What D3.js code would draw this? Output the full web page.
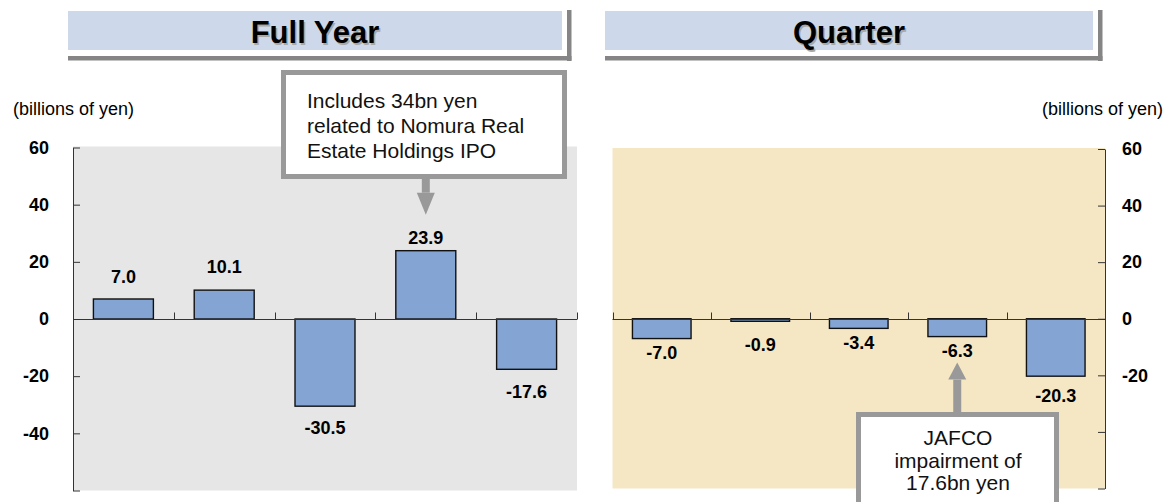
<!DOCTYPE html>
<html>
<head>
<meta charset="utf-8">
<script src="https://cdn.jsdelivr.net/npm/d3@7"></script>
<style>
	body { margin: 0; background: #fff; }
	svg { display: block; font-family: 'Liberation Sans', Arial, sans-serif; }
</style>
</head>
<body>
<svg id="chart" width="1164" height="502"></svg>
<script>
'use strict';

// values, billions of yen
const fullYearPeriods = ['FY1', 'FY2', 'FY3', 'FY4', 'FY5'];
const fullYearValues = [7.0, 10.1, -30.5, 23.9, -17.6];
const quarterPeriods = ['Q1', 'Q2', 'Q3', 'Q4', 'Q5'];
const quarterValues = [-7.0, -0.9, -3.4, -6.3, -20.3];

const yTicks = [60, 40, 20, 0, -20, -40, -60];
const fullYearTickLabels = [60, 40, 20, 0, -20, -40];
const quarterTickLabels = [60, 40, 20, 0, -20];

const unitText = '(billions of yen)';
const fullYearNote = ['Includes 34bn yen', 'related to Nomura Real', 'Estate Holdings IPO'];
const quarterNote = ['JAFCO', 'impairment of', '17.6bn yen'];

const svg = d3.select('#chart');

const panels = [
	{
		title: 'Full Year',
		periods: fullYearPeriods,
		values: fullYearValues,
		tickLabels: fullYearTickLabels,
		side: 'left',
		xRange: [73, 577],
		yRange: [490.5, 147.5],
		bg: '#e6e6e6',
		header: [68, 562],
		labelGaps: [22, 23, 22, 13, 22],
		padding: 24
	},
	{
		title: 'Quarter',
		periods: quarterPeriods,
		values: quarterValues,
		tickLabels: quarterTickLabels,
		side: 'right',
		xRange: [612.5, 1105],
		yRange: [488.5, 149],
		bg: '#f6e7c4',
		header: [605, 1093],
		labelGaps: [14, 23, 14.5, 14, 20],
		padding: 17
	}
];

function drawHeader(p) {
	const [x0, x1] = p.header;
	const g = svg.append('g');
	g.append('rect').attr('x', x0).attr('y', 11).attr('width', x1 - x0).attr('height', 39).attr('fill', '#cdd9ea');
	g.append('rect').attr('x', x1 + 5).attr('y', 10).attr('width', 4.5).attr('height', 51).attr('fill', '#858585');
	g.append('rect').attr('x', x0).attr('y', 56).attr('width', x1 - x0 + 9.5).attr('height', 4.5).attr('fill', '#858585');
	const cx = (x0 + x1) / 2;
	g.append('text').attr('x', cx + 1.5).attr('y', 44.5)
		.attr('text-anchor', 'middle').attr('font-size', 31).attr('font-weight', 'bold')
		.attr('fill', '#a8a8a8').text(p.title);
	g.append('text').attr('x', cx).attr('y', 43)
		.attr('text-anchor', 'middle').attr('font-size', 31).attr('font-weight', 'bold')
		.attr('fill', '#000').text(p.title);
}

function drawPanel(p) {
	const x = d3.scaleBand().domain(p.periods).range(p.xRange).padding(0);
	const y = d3.scaleLinear().domain([-60, 60]).range(p.yRange);
	const g = svg.append('g');

	g.append('rect')
		.attr('x', p.xRange[0]).attr('y', p.yRange[1] - 1)
		.attr('width', p.xRange[1] - p.xRange[0]).attr('height', p.yRange[0] - p.yRange[1] + 1)
		.attr('fill', p.bg);

	// y axis, ticks pointing into the plot
	const axisX = p.side === 'left' ? p.xRange[0] : p.xRange[1];
	const axis = (p.side === 'left' ? d3.axisLeft(y) : d3.axisRight(y))
		.tickValues(yTicks)
		.tickSizeInner(-7)
		.tickSizeOuter(0)
		.tickPadding(p.padding)
		.tickFormat(d => (p.tickLabels.includes(d) ? d : ''));
	const ag = g.append('g').attr('transform', 'translate(' + axisX + ',0)').call(axis);
	ag.attr('font-family', null).attr('font-size', null);
	ag.select('.domain').attr('stroke', '#333');
	ag.selectAll('line').attr('stroke', '#333');
	ag.selectAll('text').attr('font-size', 18).attr('font-weight', 'bold').attr('fill', '#000');

	// bars
	const barW = x.bandwidth() * 0.595;
	g.selectAll('rect.bar')
		.data(p.values)
		.join('rect')
		.attr('class', 'bar')
		.attr('x', (d, i) => x(p.periods[i]) + (x.bandwidth() - barW) / 2)
		.attr('y', d => Math.min(y(d), y(0)))
		.attr('width', barW)
		.attr('height', d => Math.abs(y(d) - y(0)))
		.attr('fill', '#84a5d3')
		.attr('stroke', '#111')
		.attr('stroke-width', 1.4);

	// category axis at zero with upward ticks at band edges
	const y0 = Math.round(y(0)) + 0.5;
	g.append('line')
		.attr('x1', p.xRange[0]).attr('x2', p.xRange[1])
		.attr('y1', y0).attr('y2', y0)
		.attr('stroke', '#333');
	const edges = p.periods.map(c => x(c)).concat([p.xRange[1]]);
	g.selectAll('line.xt')
		.data(edges)
		.join('line')
		.attr('class', 'xt')
		.attr('x1', d => Math.round(d) + 0.5).attr('x2', d => Math.round(d) + 0.5)
		.attr('y1', y0).attr('y2', y0 - 7)
		.attr('stroke', '#333');

	// value labels
	g.selectAll('text.val')
		.data(p.values)
		.join('text')
		.attr('class', 'val')
		.attr('x', (d, i) => x(p.periods[i]) + x.bandwidth() / 2)
		.attr('y', (d, i) => (d >= 0 ? y(d) - p.labelGaps[i] : y(d) + p.labelGaps[i]))
		.attr('dy', '0.35em')
		.attr('text-anchor', 'middle')
		.attr('font-size', 18)
		.attr('font-weight', 'bold')
		.text(d => d.toFixed(1));

	return { x, y };
}

function drawArrow(cx, yFrom, yTip, headLen) {
	const dir = yTip > yFrom ? 1 : -1;
	const yBase = yTip - dir * headLen;
	svg.append('line')
		.attr('x1', cx).attr('x2', cx)
		.attr('y1', yFrom).attr('y2', yBase)
		.attr('stroke', '#999').attr('stroke-width', 8);
	svg.append('path')
		.attr('d', 'M' + (cx - 9) + ',' + yBase + 'L' + (cx + 9) + ',' + yBase + 'L' + cx + ',' + yTip + 'Z')
		.attr('fill', '#999');
}

function drawNote(box, lines, anchor, tx, ty, lh) {
	svg.append('rect')
		.attr('x', box[0] + 2.5).attr('y', box[1] + 2.5)
		.attr('width', box[2] - 5).attr('height', box[3] - 5)
		.attr('fill', '#fff').attr('stroke', '#999').attr('stroke-width', 5);
	svg.selectAll(null)
		.data(lines)
		.join('text')
		.attr('x', tx)
		.attr('y', (d, i) => ty + i * lh)
		.attr('text-anchor', anchor)
		.attr('font-size', 21)
		.attr('fill', '#111')
		.text(d => d);
}

panels.forEach(drawHeader);
const scales = panels.map(drawPanel);

svg.append('text').attr('x', 13).attr('y', 115).attr('font-size', 18).text(unitText);
svg.append('text').attr('x', 1163).attr('y', 115).attr('text-anchor', 'end').attr('font-size', 18).text(unitText);

// note on the 4th full year bar
const fy = scales[0];
const fyX = fy.x(fullYearPeriods[3]) + fy.x.bandwidth() / 2;
drawArrow(fyX, 178, fy.y(fullYearValues[3]) - 36, 22);
drawNote([281, 70, 286, 109], fullYearNote, 'start', 307, 108, 25);

// note on the 4th quarter bar
const q = scales[1];
const qX = q.x(quarterPeriods[3]) + q.x.bandwidth() / 2;
drawArrow(qX, 413, q.y(quarterValues[3]) + 26, 17);
drawNote([856, 412, 203, 110], quarterNote, 'middle', 958, 445, 22.5);
</script>
</body>
</html>
